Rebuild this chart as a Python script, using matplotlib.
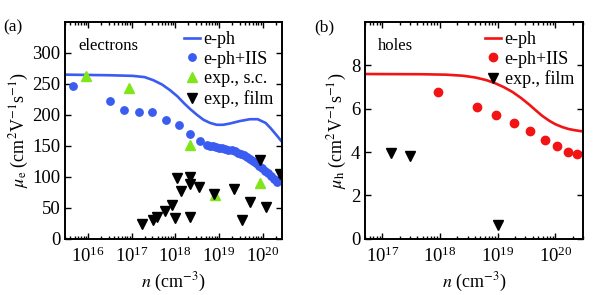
import numpy as np
import matplotlib
matplotlib.use("Agg")
import matplotlib.pyplot as plt
from matplotlib.ticker import LogLocator, NullFormatter

plt.rcParams['font.family'] = ['Liberation Serif', 'DejaVu Serif']
plt.rcParams['mathtext.fontset'] = 'stix'
plt.rcParams['font.size'] = 13

# ---- electrons (panel a), log10(n) values ----
el_line_logn = [15.47, 16.50, 17.03, 17.30, 17.50, 17.70, 17.88, 18.05, 18.20,
                18.35, 18.50, 18.65, 18.80, 18.95, 19.10, 19.25, 19.48, 19.71,
                19.89, 20.07, 20.18, 20.30, 20.44]
el_line_mu = [265, 264, 263, 261, 256, 249, 240, 230, 219,
              209, 200, 192, 187, 184, 184, 186, 190, 193,
              193, 187, 179, 169, 157]

el_iis_logn = [15.66, 16.50, 16.83, 17.17, 17.48, 17.80, 18.08, 18.33, 18.56,
               18.73, 18.80, 18.87, 18.94, 19.01, 19.08, 19.15, 19.22, 19.29,
               19.36, 19.43, 19.50, 19.57, 19.64, 19.71, 19.78, 19.85, 19.92,
               19.99, 20.06, 20.13, 20.20, 20.27, 20.34]
el_iis_mu = [247, 223, 208, 204, 204, 192, 184, 169, 158,
             152, 150, 149, 148, 147, 146, 145, 144, 143,
             141, 139, 137, 135, 132, 129, 126, 122, 118,
             114, 110, 106, 102, 97, 91]

el_sc_logn = [15.95, 16.95, 18.33, 18.91, 19.94]
el_sc_mu = [263, 243, 152, 71, 90]

el_film_logn = [17.25, 17.50, 17.58, 17.76, 17.92, 17.99, 18.05, 18.14, 18.33,
                18.33, 18.33, 18.55, 18.89, 19.35, 19.53, 19.71, 19.95, 20.07, 20.39]
el_film_mu = [23, 31, 35, 44, 55, 34, 98, 77, 100,
              89, 35, 84, 72, 80, 31, 60, 127, 51, 104]

# ---- holes (panel b) ----
ho_line_logn = [16.70, 17.68, 18.10, 18.40, 18.61, 18.80, 18.95, 19.10, 19.25,
                19.40, 19.54, 19.66, 19.77, 19.90, 20.00, 20.12, 20.23, 20.35, 20.48]
ho_line_mu = [7.60, 7.59, 7.57, 7.52, 7.44, 7.32, 7.18, 7.00, 6.78,
              6.50, 6.20, 5.92, 5.67, 5.43, 5.28, 5.15, 5.06, 5.00, 4.95]

ho_iis_logn = [17.97, 18.64, 18.97, 19.28, 19.55, 19.82, 20.02, 20.22, 20.37]
ho_iis_mu = [6.77, 6.08, 5.70, 5.35, 4.98, 4.55, 4.26, 4.01, 3.89]

ho_film_logn = [17.15, 17.47, 19.00]
ho_film_mu = [3.95, 3.82, 0.62]

blue = '#3a5cf0'
red = '#f21414'
green = '#80e61a'


def p10(v):
    return 10.0 ** np.array(v)


def style_axis(ax):
    ax.set_xscale('log')
    ax.tick_params(which='both', direction='in', top=True, right=True, width=1.0,
                   labelsize=13.5)
    ax.tick_params(axis='x', which='major', pad=6)
    ax.tick_params(which='major', length=4.5)
    ax.tick_params(which='minor', length=2.2)
    ax.xaxis.set_major_locator(LogLocator(base=10, numticks=20))
    ax.xaxis.set_minor_locator(LogLocator(base=10, subs=np.arange(2, 10), numticks=20))
    ax.xaxis.set_minor_formatter(NullFormatter())
    for s in ax.spines.values():
        s.set_linewidth(1.4)


fig = plt.figure(figsize=(6.11, 2.95), dpi=100)
ax1 = fig.add_axes([0.1064, 0.1908, 0.3552, 0.7346])
ax2 = fig.add_axes([0.5974, 0.1908, 0.3568, 0.7346])

leg_kw = dict(loc='upper right', frameon=False, handlelength=0.9, handletextpad=0.2,
              labelspacing=0.15, borderaxespad=0.3, borderpad=0.2, fontsize=13)

# panel a
ax1.plot(p10(el_line_logn), el_line_mu, color=blue, lw=1.9, label='e-ph')
ax1.plot(p10(el_iis_logn), el_iis_mu, 'o', color=blue, ms=5.3, label='e-ph+IIS')
ax1.plot(p10(el_sc_logn), el_sc_mu, '^', color=green, ms=7.5, label='exp., s.c.')
ax1.plot(p10(el_film_logn), el_film_mu, 'v', color='black', ms=7.5, label='exp., film')
style_axis(ax1)
ax1.set_xlim(3e15, 2.8e20)
ax1.set_ylim(0, 350)
ax1.set_yticks([0, 50, 100, 150, 200, 250, 300])
ax1.set_xlabel(r'$n$ (cm$^{-3}$)', labelpad=3)
ax1.set_ylabel(r'$\mu_{\rm e}$ (cm$^2$V$^{-1}$s$^{-1}$)', labelpad=1)
ax1.text(0.06, 0.89, 'electrons', transform=ax1.transAxes, va='center', fontsize=12)
ax1.legend(**leg_kw)
fig.text(0.005, 0.895, '(a)', fontsize=12.5)

# panel b
ax2.plot(p10(ho_line_logn), ho_line_mu, color=red, lw=1.9, label='e-ph')
ax2.plot(p10(ho_iis_logn), ho_iis_mu, 'o', color=red, ms=6, label='e-ph+IIS')
ax2.plot(p10(ho_film_logn), ho_film_mu, 'v', color='black', ms=7.5, label='exp., film')
style_axis(ax2)
ax2.set_xlim(5e16, 3e20)
ax2.set_ylim(0, 10)
ax2.set_yticks([0, 2, 4, 6, 8])
ax2.set_xlabel(r'$n$ (cm$^{-3}$)', labelpad=3)
ax2.set_ylabel(r'$\mu_{\rm h}$ (cm$^2$V$^{-1}$s$^{-1}$)', labelpad=1)
ax2.text(0.06, 0.89, 'holes', transform=ax2.transAxes, va='center', fontsize=12)
ax2.legend(**leg_kw)
fig.text(0.515, 0.895, '(b)', fontsize=12.5)

fig.savefig('out.png', dpi=100)
